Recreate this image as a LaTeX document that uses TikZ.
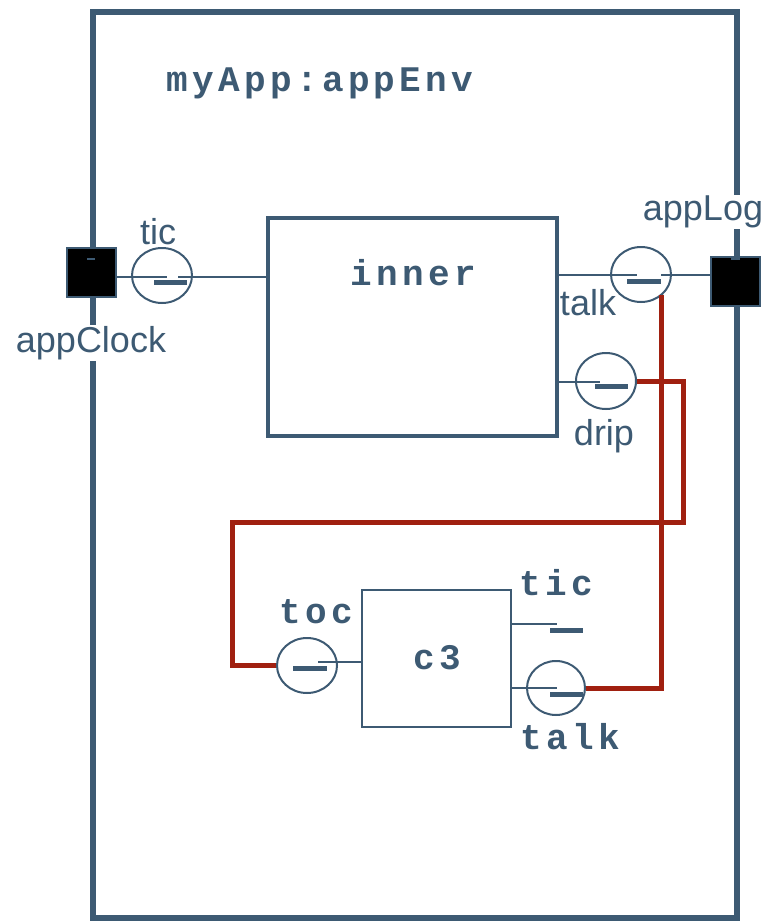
\documentclass[tikz,border=0pt]{standalone}
\usepackage{fontspec}
\setmainfont{Liberation Sans}
\newfontfamily\monob[LetterSpace=12]{Liberation Mono}
\usetikzlibrary{shapes.geometric}
\definecolor{slate}{HTML}{3D5A73}
\definecolor{wire}{HTML}{A02010}
\begin{document}
\begin{tikzpicture}[x=1pt,y=-1pt,
  frame/.style={draw=slate,line width=6pt},
  innerbox/.style={draw=slate,line width=4pt,minimum width=289pt,minimum height=218pt,inner sep=0pt},
  cbox/.style={draw=slate,line width=2pt,minimum width=149pt,minimum height=137pt,inner sep=0pt},
  portbox/.style={draw=slate,line width=2pt,fill=black,minimum size=49pt,inner sep=0pt},
  portc/.style={ellipse,draw=slate,line width=2pt,minimum width=60pt,minimum height=55pt,inner sep=0pt},
  thin/.style={draw=slate,line width=2pt},
  bar/.style={draw=slate,line width=5pt},
  redwire/.style={draw=wire,line width=5pt},
  sanslbl/.style={text=slate,font=\fontsize{36}{40}\selectfont,fill=white,inner sep=1pt},
  monolbl/.style={text=slate,font=\fontsize{36}{40}\selectfont\monob\bfseries,inner sep=0pt},
]
\useasboundingbox (0,0) rectangle (765,923);
\draw[frame] (93,12) rectangle (737,918);
% labels on the frame (occlude it)
\node[sanslbl] (lclk) at (91,343) {appClock};
\node[sanslbl] (llog) at (703,212) {appLog};
\node[monolbl] (title) at (320,83) {myApp:appEnv};
% boxes
\node[innerbox] (inner) at (412.5,327) {};
\node[monolbl] (innerlbl) at (413,273) {inner};
\node[cbox] (c3) at (436.5,658.5) {};
\node[monolbl] (c3lbl) at (437,658) {c3};
% boundary ports
\node[portbox] (clk) at (91.5,272.5) {};
\node[portbox] (log) at (735.5,281.5) {};
\draw[slate,line width=1.5pt] (87,259) -- (95,259);
\draw[slate,line width=1.5pt] (731,259) -- (740,259);
% tic (inner, left)
\node[portc] (ticc) at (162,275.5) {};
\coordinate (tica) at (167,277);
\coordinate (ticb) at (178,277);
\draw[thin] (clk.east |- tica) -- (tica);
\draw[thin] (ticb) -- (inner.west |- ticb);
\draw[bar] (154,282) -- (187,282);
\node[text=slate,font=\fontsize{36}{40}\selectfont] (ticl) at (158,232) {tic};
% talk (inner, right)
\node[portc] (talkc) at (641,274.5) {};
\coordinate (talka) at (637,275);
\coordinate (talkb) at (661,275);
\draw[thin] (inner.east |- talka) -- (talka);
\draw[thin] (talkb) -- (log.west |- talkb);
\draw[bar] (627,281) -- (661,281);
\node[text=slate,font=\fontsize{36}{40}\selectfont] (talkl) at (588,303) {talk};
% drip (inner, right)
\node[portc,minimum height=56pt] (dripc) at (606,381) {};
\coordinate (dripa) at (600,382);
\draw[thin] (inner.east |- dripa) -- (dripa);
\draw[bar] (595,386) -- (628,386);
\node[text=slate,font=\fontsize{36}{40}\selectfont] (dripl) at (604,436) {drip};
% toc (c3, left)
\node[portc] (tocc) at (307,665.5) {};
\coordinate (toca) at (318,662);
\draw[thin] (c3.west |- toca) -- (toca);
\draw[bar] (293,668) -- (327,668);
\node[monolbl] (tocl) at (316,612) {toc};
% tic (c3, right)
\coordinate (ctica) at (557,624);
\draw[thin] (c3.east |- ctica) -- (ctica);
\draw[bar] (550,630) -- (583,630);
\node[monolbl] (cticl) at (556,583) {tic};
% talk (c3, right)
\node[portc,minimum width=58pt,minimum height=54pt] (ctalkc) at (556,688) {};
\coordinate (ctalka) at (557,688);
\draw[thin] (c3.east |- ctalka) -- (ctalka);
\draw[bar] (550,694) -- (583,694);
\node[monolbl] (ctalkl) at (570,737) {talk};
% red wires
\draw[redwire] (talkc.-45) -- (talkc.-45 |- ctalkc) -- (ctalkc.east);
\draw[redwire] (dripc.east) -- (683,381) -- (683,522) -- (232,522) -- (232,665.5) -- (tocc.west);
\end{tikzpicture}
\end{document}
